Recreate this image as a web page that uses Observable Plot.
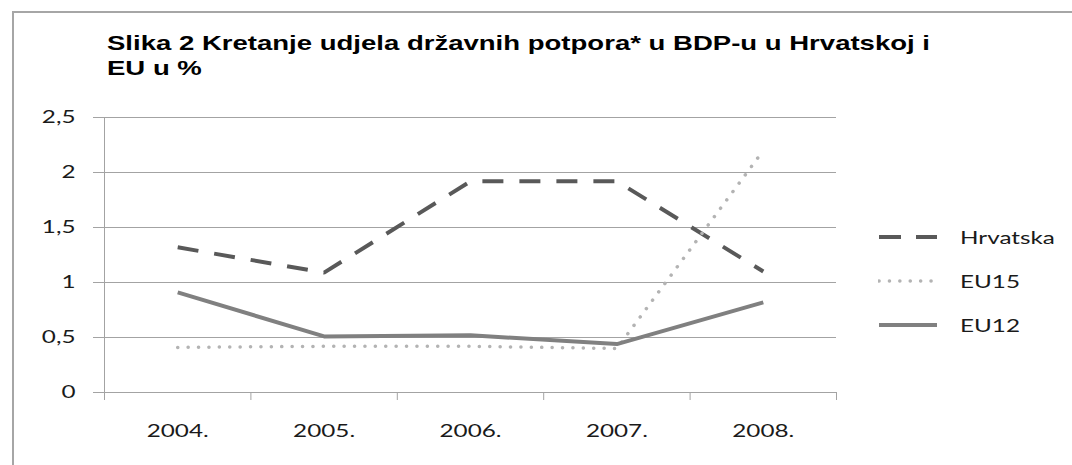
<!DOCTYPE html>
<html>
<head>
<meta charset="utf-8">
<script src="https://cdn.jsdelivr.net/npm/d3@7"></script>
<script src="https://cdn.jsdelivr.net/npm/@observablehq/plot@0.6"></script>
<style>
  body { margin: 0; background: #fff; }
  #wrap { position: relative; width: 1072px; height: 465px; overflow: hidden; background: #fff; }
  #frame { position: absolute; left: 12px; top: 11px; width: 1100px; height: 520px; border: 2px solid #a6a6a6; box-sizing: border-box; }
  #title { position: absolute; left: 107px; top: 30px; font: bold 21px "Liberation Sans", Arial, sans-serif; line-height: 25px; color: #000; white-space: nowrap; transform-origin: 0 0; }
  #chart { position: absolute; left: 0; top: 100px; }
  .leg { position: absolute; left: 878px; height: 20px; display: flex; align-items: center; }
  .leg span { font: 17px Lato, sans-serif; color: #1a1a1a; margin-left: 22px; transform-origin: 0 50%; display: inline-block; }
</style>
</head>
<body>
<div id="wrap">
  <div id="frame"></div>
  <div id="title">Slika 2 Kretanje udjela državnih potpora* u BDP-u u Hrvatskoj i<br>EU u %</div>
  <div id="chart"></div>
</div>
<script>
// ---- data ----
const years = [2004, 2005, 2006, 2007, 2008];
const seriesNames = ["Hrvatska", "EU15", "EU12"];
const hrvatska = [1.32, 1.09, 1.92, 1.92, 1.10];
const eu15 = [0.41, 0.42, 0.42, 0.40, 2.20];
const eu12 = [0.91, 0.51, 0.52, 0.44, 0.82];
const yTicks = [0, 0.5, 1, 1.5, 2, 2.5];

// ---- styles ----
const lineStyles = {
  Hrvatska: {stroke: "#595959", strokeWidth: 4, strokeDasharray: "21,16", strokeLinecap: "butt"},
  EU15: {stroke: "#b3b3b3", strokeWidth: 3.5, strokeDasharray: "0.1,10.3", strokeLinecap: "round"},
  EU12: {stroke: "#808080", strokeWidth: 4, strokeLinecap: "butt"}
};
const gridColor = "#a3a3a3";
const textColor = "#1a1a1a";

const valuesBySeries = {Hrvatska: hrvatska, EU15: eu15, EU12: eu12};
const rows = seriesNames.flatMap(s => years.map((yr, i) => ({series: s, year: yr, value: valuesBySeries[s][i]})));
const boundaries = [...years.map(y => y - 0.5), years[years.length - 1] + 0.5];

// horizontal stretch factor (reference text is stretched)
const ctx = document.createElement("canvas").getContext("2d");
ctx.font = "17px Lato";
const sx = 62 / ctx.measureText("2004.").width;

const fmt = d => String(d).replace(".", ",");

const chart = Plot.plot({
  width: 1072,
  height: 345,
  marginTop: 17,
  marginBottom: 53,
  marginLeft: 104,
  marginRight: 236,
  style: {fontFamily: "Lato, sans-serif", fontSize: "17px", background: "transparent", overflow: "visible"},
  x: {domain: [boundaries[0], boundaries[boundaries.length - 1]], label: null},
  y: {domain: [0, 2.5], label: null},
  marks: [
    Plot.gridY(yTicks, {stroke: gridColor, strokeOpacity: 1, strokeWidth: 1}),
    Plot.ruleY([0], {stroke: gridColor, strokeWidth: 1}),
    Plot.ruleX([boundaries[0]], {y1: 0, y2: 2.5, stroke: gridColor, strokeWidth: 1}),
    Plot.axisX({ticks: boundaries, tickSize: 8, tickFormat: () => "", stroke: gridColor, label: null}),
    Plot.axisX({ticks: years, tickSize: 0, tickPadding: 32, tickFormat: d => d + ".", fill: textColor, label: null}),
    Plot.axisY({ticks: yTicks, tickSize: 11, tickPadding: 18, tickFormat: fmt, stroke: gridColor, fill: textColor, label: null}),
    ...seriesNames.map(s => Plot.line(rows.filter(r => r.series === s), {x: "year", y: "value", ...lineStyles[s], strokeLinejoin: "miter"}))
  ]
});
document.getElementById("chart").appendChild(chart);

// stretch axis text horizontally with textLength
chart.querySelectorAll("text").forEach(t => {
  const len = t.getComputedTextLength();
  if (len > 0) {
    t.setAttribute("textLength", len * sx);
    t.setAttribute("lengthAdjust", "spacingAndGlyphs");
  }
});

// title stretch
const title = document.getElementById("title");
ctx.font = 'bold 21px "Liberation Sans"';
const tw = ctx.measureText("Slika 2 Kretanje udjela državnih potpora* u BDP-u u Hrvatskoj i").width;
title.style.transform = `scaleX(${823 / tw})`;

// legend (beside the plot)
const legendY = [237, 281, 325];
const wrap = d3.select("#wrap");
seriesNames.forEach((s, i) => {
  const item = wrap.append("div").attr("class", "leg").style("top", (legendY[i] - 10) + "px");
  const sw = item.append("svg").attr("width", 60).attr("height", 20);
  const st = lineStyles[s];
  sw.append("line").attr("x1", 1).attr("x2", 59).attr("y1", 10).attr("y2", 10)
    .attr("stroke", st.stroke).attr("stroke-width", st.strokeWidth)
    .attr("stroke-dasharray", s === "Hrvatska" ? "22,15" : (st.strokeDasharray || null))
    .attr("stroke-linecap", st.strokeLinecap);
  item.append("span").text(s).style("transform", `scaleX(${sx})`);
});
</script>
</body>
</html>
